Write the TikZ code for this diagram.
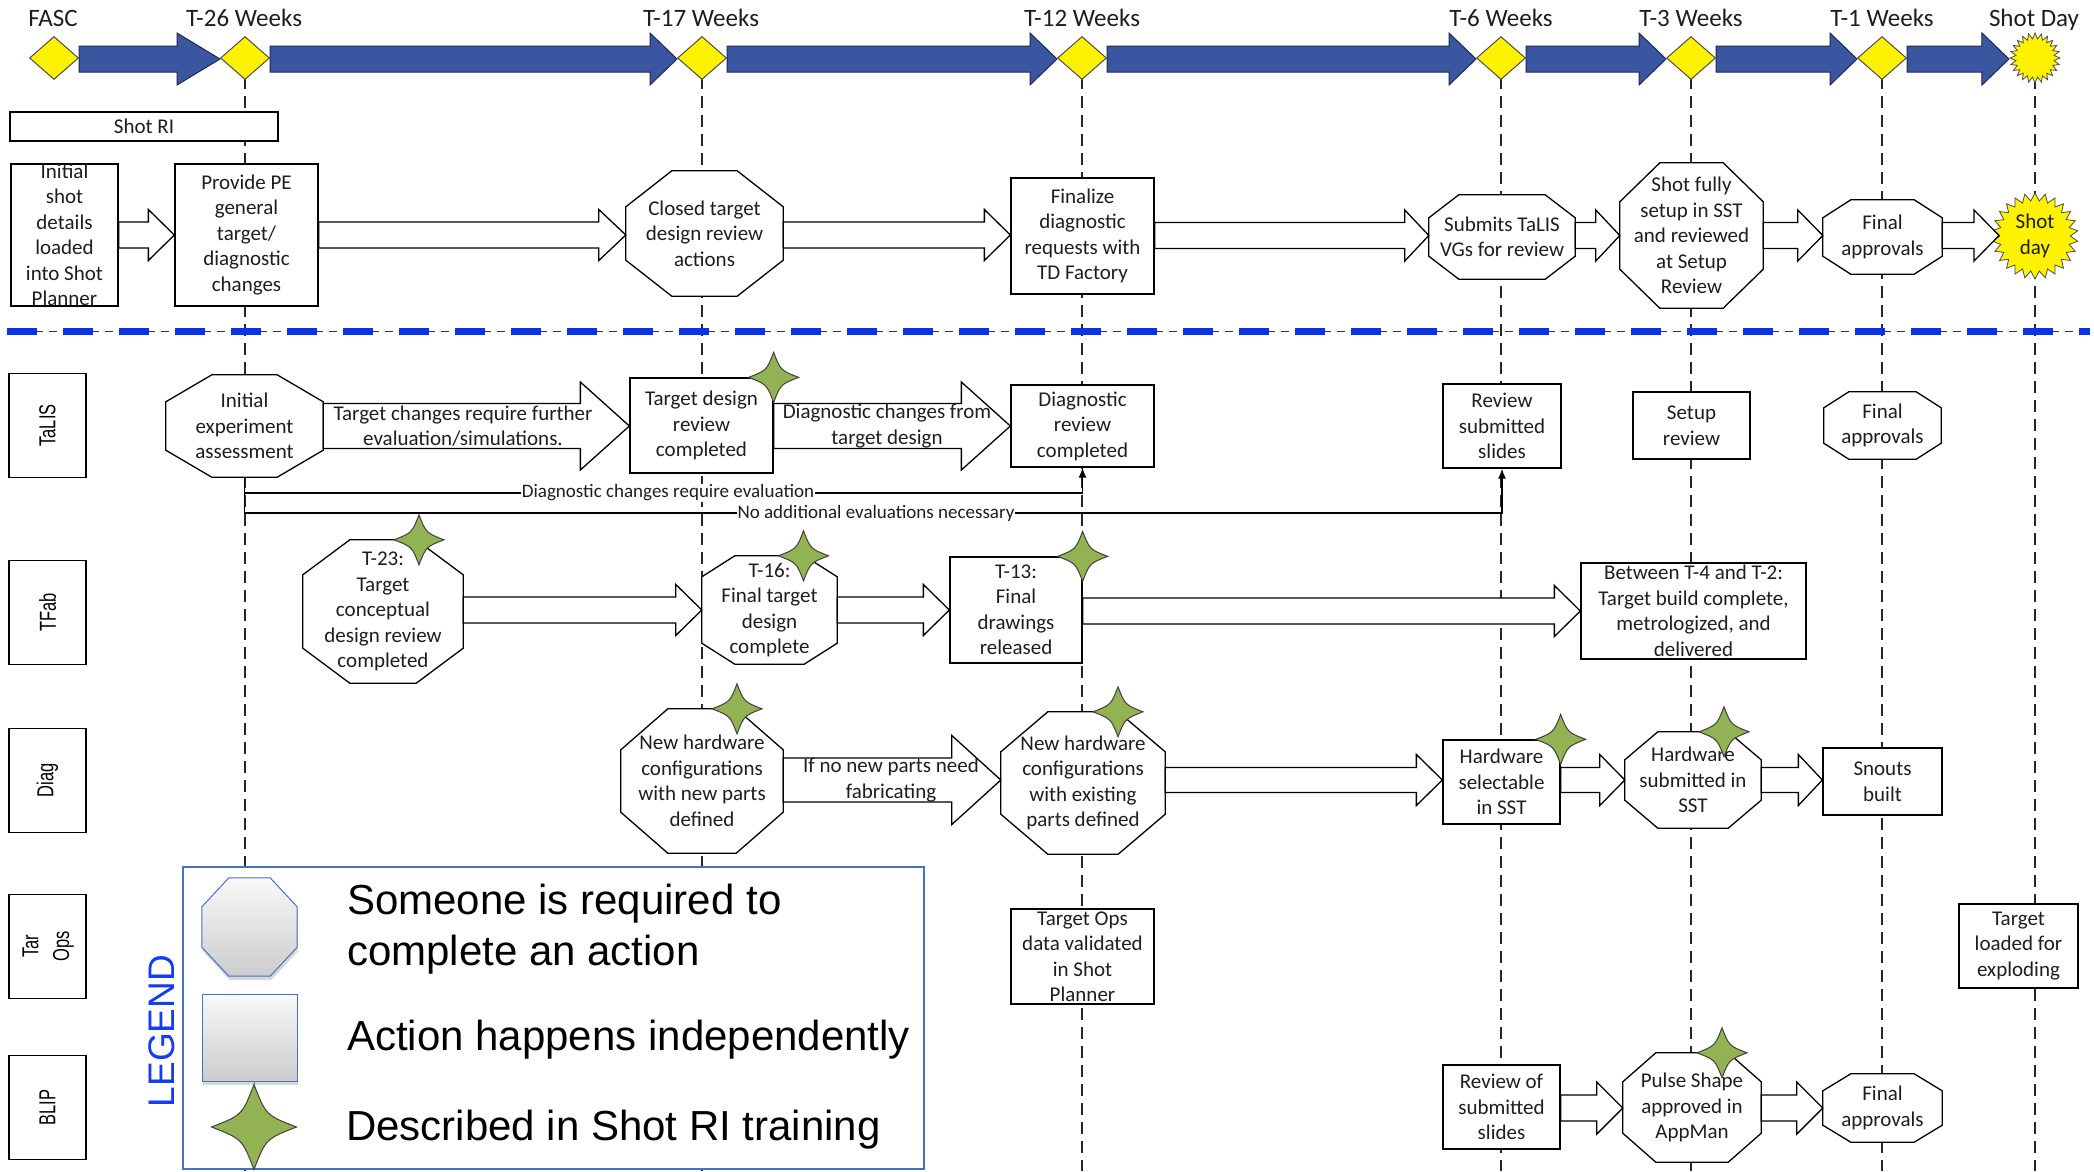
\documentclass[tikz,border=0pt]{standalone}
\usepackage{fontspec}
\usepackage{graphicx}
\setmainfont{Carlito}
\newfontfamily\arialf{Liberation Sans}
\usetikzlibrary{shapes.geometric,arrows.meta,calc,shadows}
\pgfdeclarelayer{bg}
\pgfdeclarelayer{mid}
\pgfsetlayers{bg,mid,main}
\definecolor{tlblue}{RGB}{59,86,161}
\definecolor{tlborder}{RGB}{30,40,80}
\definecolor{sepblue}{RGB}{10,50,235}
\definecolor{stargreen}{RGB}{146,178,84}
\definecolor{legblue}{RGB}{68,114,196}
\definecolor{legtxt}{RGB}{20,60,240}
\definecolor{txt}{RGB}{30,30,30}
\newcommand\fNode{\fontsize{21pt}{25.5pt}\selectfont}
\newcommand\fEdge{\fontsize{19pt}{22pt}\selectfont}
\newcommand\fTime{\fontsize{25pt}{30pt}\selectfont}
\newcommand\fLane{\arialf\fontsize{16.5pt}{22pt}\selectfont}
\newcommand\fLeg{\arialf\fontsize{42pt}{51pt}\selectfont}
\newcommand\octshape[4][octsty]{%
\path[#1] ([xshift=#3pt]#2.north west) -- ([xshift=-#3pt]#2.north east) -- ([yshift=-#4pt]#2.north east) -- ([yshift=#4pt]#2.south east) -- ([xshift=-#3pt]#2.south east) -- ([xshift=#3pt]#2.south west) -- ([yshift=#4pt]#2.south west) -- ([yshift=-#4pt]#2.north west) -- cycle;}
\newcommand\octpath[4][octsty]{\begin{pgfonlayer}{mid}\octshape[#1]{#2}{#3}{#4}\end{pgfonlayer}}
\newcommand\blkarrow[7][blk]{%
\path[#1] let \p1=(#2), \p2=(#3), \p3=(0,#4) in (\x1,\y3+#5pt) -- (\x2-#7pt,\y3+#5pt) -- (\x2-#7pt,\y3+#6pt) -- (\x2,\y3) -- (\x2-#7pt,\y3-#6pt) -- (\x2-#7pt,\y3-#5pt) -- (\x1,\y3-#5pt) -- cycle;}
\begin{document}
\begin{tikzpicture}[x=1pt,y=-1pt,
 box/.style={draw=black, line width=1.3pt, fill=white, align=center, inner sep=0pt, font=\fNode, text=txt},
 octn/.style={align=center, inner sep=0pt, font=\fNode, text=txt},
 octsty/.style={draw=black, line width=1.3pt, fill=white},
 blk/.style={draw=black, line width=1.3pt, fill=white},
 tlarrow/.style={draw=tlborder, line width=1pt, fill=tlblue},
 dia/.style={diamond, draw=black!70, fill=yellow, line width=1pt, inner sep=0pt, minimum width=49pt, minimum height=43pt},
 tlab/.style={anchor=base, font=\fTime, text=txt},
 lane/.style={draw=black, line width=1.5pt, fill=white, minimum width=77pt, minimum height=104pt, inner sep=0pt, font=\fLane},
 vdash/.style={draw=black!85, line width=1.2pt, dash pattern=on 12pt off 7pt},
 conn/.style={draw=black, line width=1.3pt, -{Latex[length=10pt,width=8pt]}},
 elab/.style={fill=white, inner sep=1pt, font=\fEdge, text=txt},
 alab/.style={align=center, inner sep=0pt, font=\fNode, text=txt},
 starsty/.style={draw=black!75, line width=1pt, fill=stargreen},
 legsh/.style={draw=legblue, line width=1pt, top color=gray!5, bottom color=gray!40, drop shadow={opacity=0.3,shadow xshift=1pt,shadow yshift=-4pt}},
 gstar/.pic={\path[starsty] (0,-25) .. controls (7,-7) .. (25,0) .. controls (7,7) .. (0,25) .. controls (-7,7) .. (-25,0) .. controls (-7,-7) .. cycle;},
]
\useasboundingbox (0,0) rectangle (2094,1171);
\coordinate (bot) at (0,1171);

% ---------- timeline ----------
\node[dia] (fasc) at (54,58) {};
\node[dia] (t26) at (245,58) {};
\node[dia] (t17) at (702,58) {};
\node[dia] (t12) at (1082,58) {};
\node[dia] (t6) at (1501,58) {};
\node[dia] (t3) at (1691,58) {};
\node[dia] (t1) at (1882,58) {};
\node[star, star points=24, star point ratio=1.3, minimum size=50pt, inner sep=0pt, draw=black!70, fill=yellow, line width=0.8pt] (sd) at (2035,58) {};

\blkarrow[tlarrow]{fasc.east}{t26.west}{59}{13}{26}{43}
\blkarrow[tlarrow]{t26.east}{t17.west}{59}{13}{26}{27}
\blkarrow[tlarrow]{t17.east}{t12.west}{59}{13}{26}{27}
\blkarrow[tlarrow]{t12.east}{t6.west}{59}{13}{26}{27}
\blkarrow[tlarrow]{t6.east}{t3.west}{59}{13}{26}{27}
\blkarrow[tlarrow]{t3.east}{t1.west}{59}{13}{26}{27}
\blkarrow[tlarrow]{t1.east}{sd.180}{59}{13}{26}{27}

\node[tlab] (lfasc) at (53,26) {FASC};
\node[tlab] (l26) at (244,26) {T-26 Weeks};
\node[tlab] (l17) at (701,26) {T-17 Weeks};
\node[tlab] (l12) at (1082,26) {T-12 Weeks};
\node[tlab] (l6) at (1501,26) {T-6 Weeks};
\node[tlab] (l3) at (1691,26) {T-3 Weeks};
\node[tlab] (l1w) at (1882,26) {T-1 Weeks};
\node[tlab] (lsd) at (2034,26) {Shot Day};

\begin{pgfonlayer}{bg}
\foreach \n in {t26,t17,t12,t6,t3,t1,sd} \draw[vdash] (\n.center) -- (\n.center |- bot);
\coordinate (sepL) at (7,331);
\coordinate (sepR) at (2090,331);
\draw[black!80, line width=1pt, dash pattern=on 8pt off 6pt] (sepL) -- (sepR);
\draw[sepblue, line width=7pt, dash pattern=on 30pt off 26pt] (sepL) -- (sepR);
\end{pgfonlayer}

% ---------- top row ----------
\node[box, minimum width=268pt, minimum height=29pt] (shotri) at (144,126.5) {Shot RI};
\node[box, minimum width=107pt, minimum height=142pt, inner ysep=-5pt] (init) at (64.5,235) {Initial\\shot\\details\\loaded\\into Shot\\Planner};
\node[box, minimum width=143pt, minimum height=142pt] (prov) at (246.5,235) {Provide PE\\general\\target/\\diagnostic\\changes};
\node[octn, minimum width=157pt, minimum height=125pt] (closed) at (704.5,233.5) {Closed target\\design review\\actions};
\octpath{closed}{46}{36}
\node[box, minimum width=143pt, minimum height=116pt] (findiag) at (1082.5,236) {Finalize\\diagnostic\\requests with\\TD Factory};
\node[octn, minimum width=146pt, minimum height=84pt] (submits) at (1502,237) {Submits TaLIS\\VGs for review};
\octpath{submits}{30}{23}
\node[octn, minimum width=143pt, minimum height=145pt] (shotfully) at (1691.5,235.5) {Shot fully\\setup in SST\\and reviewed\\at Setup\\Review};
\octpath{shotfully}{40}{39}
\node[octn, minimum width=119pt, minimum height=74pt] (finalA) at (1882.5,237) {Final\\approvals};
\octpath{finalA}{28}{18}
\node[star, star points=26, star point ratio=1.22, minimum size=86pt, inner sep=0pt, draw=black!70, fill=yellow, line width=0.8pt] (shotday) at (2035,236) {};
\node[alab] (shotdayt) at (shotday.center) {Shot\\day};

\blkarrow{init.east}{prov.west}{235}{13}{25.5}{26}
\blkarrow{prov.east}{closed.west}{235}{13}{25.5}{27}
\blkarrow{closed.east}{findiag.west}{235}{13}{25.5}{26}
\blkarrow{findiag.east}{submits.west}{235.5}{13}{25.5}{24}
\blkarrow{submits.east}{shotfully.west}{235.5}{13}{25.5}{24}
\blkarrow{shotfully.east}{finalA.west}{235.5}{13}{25.5}{25}
\blkarrow{finalA.east}{shotday.180}{235.5}{13}{25.5}{25}

% ---------- lanes ----------
\node[lane] (lTaLIS) at (47.5,425.5) {\rotatebox{90}{\scalebox{1}[1.4]{TaLIS}}};
\node[lane] (lTFab) at (47.5,612.5) {\rotatebox{90}{\scalebox{1}[1.4]{TFab}}};
\node[lane] (lDiag) at (47.5,780.5) {\rotatebox{90}{\scalebox{1}[1.4]{Diag}}};
\node[lane] (lTar) at (47.5,946.5) {\rotatebox{90}{\scalebox{1}[1.4]{\begin{tabular}{@{}c@{}}Tar\\Ops\end{tabular}}}};
\node[lane] (lBLIP) at (47.5,1107.5) {\rotatebox{90}{\scalebox{1}[1.4]{BLIP}}};

% ---------- TaLIS ----------
\node[octn, minimum width=157pt, minimum height=102pt] (iea) at (244.5,426) {Initial\\experiment\\assessment};
\octpath{iea}{46}{27}
\node[box, minimum width=143pt, minimum height=95pt] (tdr) at (701.5,425.5) {Target design\\review\\completed};
\node[box, minimum width=143pt, minimum height=82pt] (drc) at (1082.5,426) {Diagnostic\\review\\completed};
\node[box, minimum width=118pt, minimum height=84pt] (rss) at (1502,426) {Review\\submitted\\slides};
\node[box, minimum width=117pt, minimum height=67pt] (setup) at (1691.5,425.5) {Setup\\review};
\node[octn, minimum width=117pt, minimum height=67pt] (finalB) at (1882.5,425.5) {Final\\approvals};
\octpath{finalB}{25}{16}
\blkarrow{iea.east}{tdr.west}{426}{22.5}{44}{49}
\blkarrow{tdr.east}{drc.west}{426}{22.5}{44}{49}
\node[alab] (a1t) at (463,426) {Target changes require further\\evaluation/simulations.};
\node[alab] (a2t) at (887,426) {Diagnostic changes from\\target design};
\pic at (tdr.north east) {gstar};

\coordinate (ya) at (0,493);
\coordinate (yb) at (0,513);
\draw[conn] (iea.south) -- (iea.south |- ya) -- (drc.south |- ya) -- (drc.south);
\draw[conn] (iea.south) -- (iea.south |- yb) -- (rss.south |- yb) -- (rss.south);
\node[elab] (el1) at (668,493) {Diagnostic changes require evaluation};
\node[elab] (el2) at (876,513) {No additional evaluations necessary};

% ---------- TFab ----------
\node[octn, minimum width=160pt, minimum height=143pt] (t23) at (383,611.5) {T-23:\\Target\\conceptual\\design review\\completed};
\octpath{t23}{47}{35}
\node[octn, minimum width=135pt, minimum height=108pt] (t16) at (769.5,610) {T-16:\\Final target\\design\\complete};
\octpath{t16}{33}{21}
\node[box, minimum width=132pt, minimum height=106pt] (t13) at (1016,610) {T-13:\\Final\\drawings\\released};
\node[box, minimum width=225pt, minimum height=96pt] (betw) at (1693.5,611) {Between T-4 and T-2:\\Target build complete,\\metrologized, and\\delivered};
\blkarrow{t23.east}{t16.west}{610}{13}{25.5}{26}
\blkarrow{t16.east}{t13.west}{610}{13}{25.5}{26}
\blkarrow{t13.east}{betw.west}{611}{13}{25.5}{26}
\pic at ([xshift=36pt]t23.north) {gstar};
\pic at ([xshift=34pt]t16.north) {gstar};
\pic at (t13.north east) {gstar};

% ---------- Diag ----------
\node[octn, minimum width=162pt, minimum height=144pt] (nhw1) at (702,781) {New hardware\\configurations\\with new parts\\defined};
\octpath{nhw1}{47}{41}
\node[octn, minimum width=164pt, minimum height=142pt] (nhw2) at (1083,783) {New hardware\\configurations\\with existing\\parts defined};
\octpath{nhw2}{47}{40}
\node[box, minimum width=117pt, minimum height=84pt] (hws) at (1501.5,782) {Hardware\\selectable\\in SST};
\node[octn, minimum width=136pt, minimum height=96pt] (hwsub) at (1693,780) {Hardware\\submitted in\\SST};
\octpath{hwsub}{33}{28}
\node[box, minimum width=119pt, minimum height=67pt] (snouts) at (1882.5,781.5) {Snouts\\built};
\blkarrow{nhw1.east}{nhw2.west}{780}{22}{44.5}{49}
\node[alab] (a3t) at (891,780) {If no new parts need\\fabricating};
\blkarrow{nhw2.east}{hws.west}{780}{12.5}{25.5}{26}
\blkarrow{hws.east}{hwsub.west}{780}{12.5}{25.5}{25}
\blkarrow{hwsub.east}{snouts.west}{780}{12.5}{25.5}{24}
\pic at ([xshift=35pt]nhw1.north) {gstar};
\pic at ([xshift=35pt]nhw2.north) {gstar};
\pic at (hws.north east) {gstar};
\pic at ([xshift=31pt]hwsub.north) {gstar};

% ---------- Tar Ops ----------
\node[box, minimum width=143pt, minimum height=95pt] (tops) at (1082.5,956.5) {Target Ops\\data validated\\in Shot\\Planner};
\node[box, minimum width=119pt, minimum height=84pt] (tle) at (2018.5,946) {Target\\loaded for\\exploding};

% ---------- BLIP ----------
\node[box, minimum width=117pt, minimum height=84pt] (rev) at (1501.5,1107) {Review of\\submitted\\slides};
\node[octn, minimum width=138pt, minimum height=109pt] (pulse) at (1692,1107.5) {Pulse Shape\\approved in\\AppMan};
\octpath{pulse}{33}{29}
\node[octn, minimum width=119pt, minimum height=68pt] (finalC) at (1882.5,1108) {Final\\approvals};
\octpath{finalC}{28}{17}
\blkarrow{rev.east}{pulse.west}{1108}{13}{26}{26}
\blkarrow{pulse.east}{finalC.west}{1108}{13}{26}{26}
\pic at ([xshift=30pt]pulse.north) {gstar};

% ---------- legend ----------
\node[draw=legblue, line width=1.2pt, fill=white, minimum width=741pt, minimum height=302pt, inner sep=0pt] (legend) at (553.5,1018) {};
\node[rotate=90, text=legtxt, font=\arialf\fontsize{37pt}{40pt}\selectfont, inner sep=0pt] (legt) at (162,1031) {LEGEND};
\node[inner sep=0pt, minimum width=95pt, minimum height=98pt] (lo) at (249.5,927) {};
\octshape[legsh]{lo}{27}{29}
\node[legsh, minimum width=95pt, minimum height=87pt, inner sep=0pt] (lsq) at (249.5,1037.5) {};
\pic[scale=1.7] at (254,1127) {gstar};
\node[anchor=west, align=left, font=\fLeg, text=black, inner sep=0pt] (lt1) at (347,929) {Someone is required to\\complete an action};
\node[anchor=west, font=\fLeg, text=black, inner sep=0pt] (lt2) at (347,1040) {Action happens independently};
\node[anchor=west, font=\fLeg, text=black, inner sep=0pt] (lt3) at (346,1130) {Described in Shot RI training};
\end{tikzpicture}
\end{document}
